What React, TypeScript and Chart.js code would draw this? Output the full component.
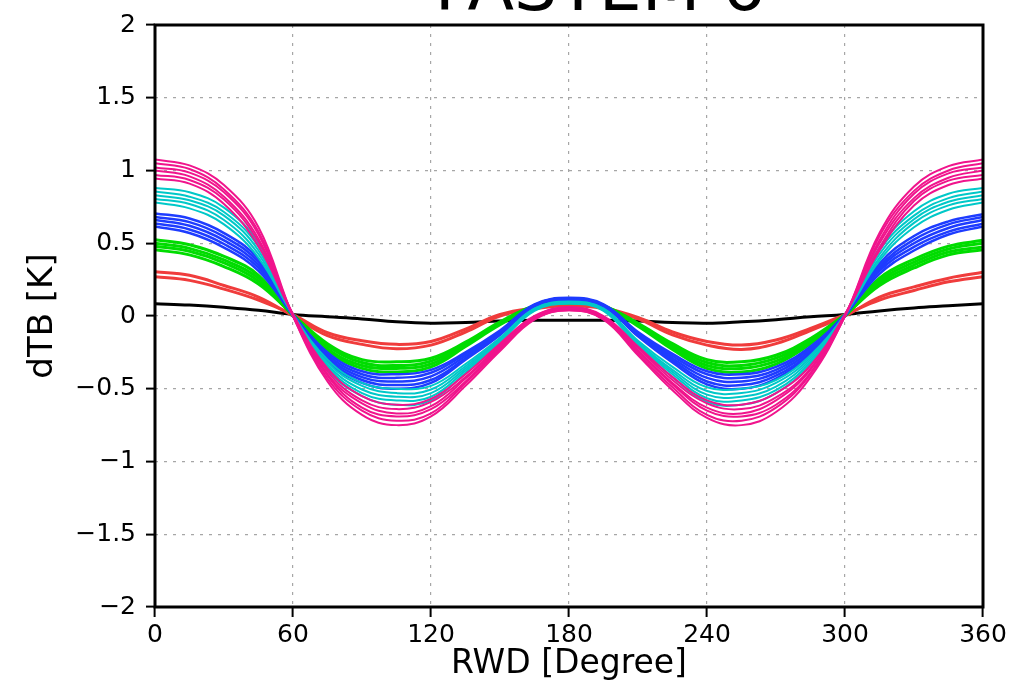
import { useEffect, useRef } from "react";
import { Chart, registerables } from "chart.js";

Chart.register(...registerables);

const TITLE = "FASTEM 6";
const X_TITLE = "RWD [Degree]";
const Y_TITLE = "dTB [K]";

const ANGLES = [0, 15, 30, 45, 60, 75, 90, 105, 120, 135, 150, 165, 180, 195, 210, 225, 240, 255, 270, 285, 300, 315, 330, 345, 360];

const MAGENTA_1 = [1.075, 1.035, 0.9, 0.61, 0.0, -0.45, -0.68, -0.75, -0.69, -0.48, -0.24, -0.025, 0.04, -0.025, -0.27, -0.51, -0.7, -0.75, -0.66, -0.42, 0.0, 0.57, 0.89, 1.03, 1.075];
const MAGENTA_2 = [1.05, 1.01, 0.87, 0.58, 0.0, -0.43, -0.65, -0.72, -0.67, -0.46, -0.23, -0.02, 0.04, -0.02, -0.26, -0.49, -0.68, -0.72, -0.63, -0.4, 0.0, 0.55, 0.86, 1.0, 1.05];
const MAGENTA_3 = [1.02, 0.985, 0.85, 0.56, 0.0, -0.41, -0.63, -0.69, -0.64, -0.45, -0.22, -0.015, 0.05, -0.015, -0.245, -0.47, -0.65, -0.69, -0.61, -0.39, 0.0, 0.52, 0.84, 0.98, 1.02];
const MAGENTA_4 = [1.0, 0.96, 0.82, 0.53, 0.01, -0.4, -0.6, -0.67, -0.62, -0.43, -0.21, -0.01, 0.05, -0.01, -0.235, -0.46, -0.63, -0.67, -0.58, -0.37, 0.01, 0.5, 0.81, 0.95, 1.0];
const MAGENTA_5 = [0.97, 0.935, 0.8, 0.51, 0.01, -0.38, -0.58, -0.64, -0.59, -0.42, -0.2, -0.005, 0.06, -0.005, -0.22, -0.44, -0.6, -0.64, -0.56, -0.36, 0.01, 0.47, 0.79, 0.93, 0.97];
const MAGENTA_6 = [0.945, 0.91, 0.77, 0.48, 0.01, -0.36, -0.55, -0.61, -0.57, -0.4, -0.19, 0.0, 0.06, 0.0, -0.21, -0.42, -0.58, -0.61, -0.53, -0.34, 0.01, 0.45, 0.76, 0.9, 0.945];

const CYAN_1 = [0.88, 0.85, 0.745, 0.5, 0.0, -0.37, -0.55, -0.61, -0.58, -0.39, -0.18, 0.035, 0.085, 0.035, -0.21, -0.42, -0.59, -0.61, -0.53, -0.33, 0.0, 0.47, 0.72, 0.84, 0.88];
const CYAN_2 = [0.855, 0.82, 0.715, 0.475, 0.0, -0.35, -0.53, -0.58, -0.555, -0.375, -0.17, 0.04, 0.09, 0.04, -0.2, -0.4, -0.565, -0.58, -0.51, -0.315, 0.0, 0.45, 0.69, 0.81, 0.855];
const CYAN_3 = [0.83, 0.795, 0.69, 0.45, 0.005, -0.335, -0.505, -0.555, -0.53, -0.36, -0.165, 0.045, 0.09, 0.045, -0.19, -0.385, -0.54, -0.555, -0.485, -0.3, 0.005, 0.425, 0.665, 0.785, 0.83];
const CYAN_4 = [0.805, 0.77, 0.66, 0.425, 0.01, -0.32, -0.48, -0.53, -0.505, -0.345, -0.16, 0.05, 0.095, 0.05, -0.18, -0.37, -0.515, -0.53, -0.46, -0.285, 0.01, 0.4, 0.64, 0.76, 0.805];
const CYAN_5 = [0.78, 0.74, 0.63, 0.4, 0.01, -0.3, -0.46, -0.5, -0.48, -0.33, -0.15, 0.05, 0.1, 0.05, -0.17, -0.35, -0.49, -0.5, -0.44, -0.27, 0.01, 0.38, 0.61, 0.73, 0.78];

const BLUE_1 = [0.705, 0.67, 0.57, 0.39, 0.0, -0.31, -0.46, -0.5, -0.46, -0.3, -0.13, 0.065, 0.11, 0.065, -0.14, -0.32, -0.47, -0.5, -0.43, -0.26, 0.0, 0.36, 0.55, 0.65, 0.7];
const BLUE_2 = [0.68, 0.645, 0.545, 0.37, 0.0, -0.295, -0.44, -0.475, -0.44, -0.29, -0.12, 0.07, 0.115, 0.07, -0.13, -0.305, -0.45, -0.475, -0.41, -0.25, 0.0, 0.34, 0.525, 0.63, 0.68];
const BLUE_3 = [0.66, 0.62, 0.52, 0.35, 0.005, -0.28, -0.42, -0.45, -0.415, -0.275, -0.115, 0.075, 0.12, 0.075, -0.125, -0.29, -0.425, -0.45, -0.39, -0.235, 0.005, 0.325, 0.5, 0.605, 0.66];
const BLUE_4 = [0.635, 0.595, 0.495, 0.33, 0.01, -0.265, -0.4, -0.425, -0.39, -0.26, -0.11, 0.075, 0.12, 0.075, -0.12, -0.275, -0.4, -0.425, -0.37, -0.22, 0.01, 0.31, 0.475, 0.58, 0.635];
const BLUE_5 = [0.615, 0.57, 0.47, 0.31, 0.01, -0.25, -0.38, -0.4, -0.37, -0.25, -0.1, 0.08, 0.125, 0.08, -0.11, -0.26, -0.38, -0.4, -0.35, -0.21, 0.01, 0.29, 0.45, 0.56, 0.615];

const GREEN_1 = [0.525, 0.49, 0.41, 0.28, 0.0, -0.24, -0.36, -0.385, -0.35, -0.21, -0.06, 0.06, 0.09, 0.06, -0.07, -0.23, -0.36, -0.385, -0.33, -0.19, 0.0, 0.26, 0.39, 0.48, 0.52];
const GREEN_2 = [0.5, 0.465, 0.385, 0.26, 0.005, -0.225, -0.34, -0.36, -0.33, -0.2, -0.053, 0.063, 0.093, 0.063, -0.063, -0.217, -0.34, -0.36, -0.31, -0.178, 0.005, 0.243, 0.37, 0.46, 0.5];
const GREEN_3 = [0.48, 0.445, 0.365, 0.24, 0.005, -0.205, -0.32, -0.34, -0.31, -0.19, -0.047, 0.067, 0.097, 0.067, -0.057, -0.203, -0.32, -0.34, -0.29, -0.167, 0.005, 0.227, 0.35, 0.44, 0.475];
const GREEN_4 = [0.455, 0.42, 0.34, 0.22, 0.01, -0.19, -0.3, -0.315, -0.29, -0.18, -0.04, 0.07, 0.1, 0.07, -0.05, -0.19, -0.3, -0.315, -0.27, -0.155, 0.01, 0.21, 0.33, 0.42, 0.455];

const RED_1 = [0.305, 0.28, 0.21, 0.13, 0.0, -0.135, -0.195, -0.225, -0.2, -0.11, 0.0, 0.05, 0.07, 0.05, -0.02, -0.13, -0.2, -0.23, -0.19, -0.1, 0.0, 0.13, 0.2, 0.26, 0.3];
const RED_2 = [0.27, 0.245, 0.185, 0.11, 0.01, -0.115, -0.17, -0.195, -0.175, -0.09, 0.01, 0.055, 0.075, 0.055, -0.01, -0.11, -0.175, -0.2, -0.165, -0.085, 0.01, 0.11, 0.175, 0.235, 0.27];

const BLACK_1 = [0.085, 0.075, 0.06, 0.04, 0.01, -0.005, -0.02, -0.04, -0.05, -0.045, -0.035, -0.03, -0.03, -0.03, -0.035, -0.045, -0.05, -0.04, -0.025, -0.005, 0.01, 0.035, 0.055, 0.07, 0.085];

const X_TICKS = [0, 60, 120, 180, 240, 300, 360];
const Y_TICKS = [-2, -1.5, -1, -0.5, 0, 0.5, 1, 1.5, 2];

const COLORS = {
  magenta: "#f0148c",
  cyan: "#00c8c8",
  blue: "#1e3cff",
  green: "#00dc00",
  red: "#f03c3c",
  black: "#000000",
};

export default function App() {
  const ref = useRef<HTMLCanvasElement>(null);

  useEffect(() => {
    document.body.style.margin = "0";
    const canvas = ref.current;
    if (!canvas) return;

    const mk = (vals: number[], color: string, w: number) => ({
      data: ANGLES.map((a, i) => ({ x: a, y: vals[i] })),
      borderColor: color,
      backgroundColor: color,
      borderWidth: w,
      pointRadius: 0,
      fill: false,
      tension: 0.4,
    });

    const datasets = [
      mk(MAGENTA_1, COLORS.magenta, 2),
      mk(MAGENTA_2, COLORS.magenta, 2),
      mk(MAGENTA_3, COLORS.magenta, 2),
      mk(MAGENTA_4, COLORS.magenta, 2),
      mk(MAGENTA_5, COLORS.magenta, 2),
      mk(MAGENTA_6, COLORS.magenta, 2),
      mk(CYAN_1, COLORS.cyan, 2),
      mk(CYAN_2, COLORS.cyan, 2),
      mk(CYAN_3, COLORS.cyan, 2),
      mk(CYAN_4, COLORS.cyan, 2),
      mk(CYAN_5, COLORS.cyan, 2),
      mk(BLUE_1, COLORS.blue, 2.5),
      mk(BLUE_2, COLORS.blue, 2.5),
      mk(BLUE_3, COLORS.blue, 2.5),
      mk(BLUE_4, COLORS.blue, 2.5),
      mk(BLUE_5, COLORS.blue, 2.5),
      mk(GREEN_1, COLORS.green, 3),
      mk(GREEN_2, COLORS.green, 3),
      mk(GREEN_3, COLORS.green, 3),
      mk(GREEN_4, COLORS.green, 3),
      mk(RED_1, COLORS.red, 3),
      mk(RED_2, COLORS.red, 3),
      mk(BLACK_1, COLORS.black, 3),
    ];

    const framePlugin = {
      id: "frameAndTitle",
      afterDraw(chart: any) {
        const c = chart.ctx as CanvasRenderingContext2D;
        const a = chart.chartArea;
        c.save();
        c.lineWidth = 3;
        c.strokeStyle = "#000";
        c.strokeRect(a.left, a.top, a.right - a.left, a.bottom - a.top);
        c.font = '68px "DejaVu Sans"';
        c.fillStyle = "#000";
        c.textAlign = "center";
        c.textBaseline = "alphabetic";
        c.fillText(TITLE, 600, 10);
        c.restore();
      },
    };

    const gridCommon = {
      color: "#a6a6a6",
      lineWidth: 1.2,
      tickColor: "#000",
      tickWidth: 2,
      tickBorderDash: [],
    };

    const chart = new Chart(canvas, {
      type: "line",
      data: { datasets },
      options: {
        animation: false,
        responsive: false,
        maintainAspectRatio: false,
        layout: { padding: { top: 25, right: 31, left: 0, bottom: 0 } },
        plugins: { legend: { display: false }, tooltip: { enabled: false }, title: { display: false } },
        scales: {
          x: {
            type: "linear",
            min: 0,
            max: 360,
            afterFit: (s: any) => {
              s.height = 87;
            },
            afterBuildTicks: (s: any) => {
              s.ticks = X_TICKS.map((v) => ({ value: v }));
            },
            ticks: {
              font: { family: "DejaVu Sans", size: 25, lineHeight: 1 },
              color: "#000",
              padding: 6,
              maxRotation: 0,
              autoSkip: false,
              callback: (v: any) => String(v),
            },
            grid: { ...gridCommon, tickLength: 10 },
            border: { display: false, dash: [3, 6] },
            title: {
              display: true,
              text: X_TITLE,
              color: "#000",
              font: { family: "DejaVu Sans", size: 33, lineHeight: 1 },
              padding: { top: 0, bottom: 13 },
            },
          },
          y: {
            type: "linear",
            min: -2,
            max: 2,
            afterFit: (s: any) => {
              s.width = 155;
            },
            afterBuildTicks: (s: any) => {
              s.ticks = Y_TICKS.map((v) => ({ value: v }));
            },
            ticks: {
              font: { family: "DejaVu Sans", size: 25, lineHeight: 1 },
              color: "#000",
              padding: 10,
              autoSkip: false,
              callback: (v: any) => (v < 0 ? "\u2212" + String(Math.abs(v)) : String(v)),
            },
            grid: { ...gridCommon, tickLength: 9 },
            border: { display: false, dash: [3, 6] },
            title: {
              display: true,
              text: Y_TITLE,
              color: "#000",
              font: { family: "DejaVu Sans", size: 34, lineHeight: 1 },
              padding: { top: 26, bottom: 0 },
            },
          },
        },
      },
      plugins: [framePlugin],
    });

    return () => chart.destroy();
  }, []);

  return (
    <div style={{ width: 1014, height: 694 }}>
      <canvas ref={ref} width={1014} height={694} style={{ display: "block" }} />
    </div>
  );
}
